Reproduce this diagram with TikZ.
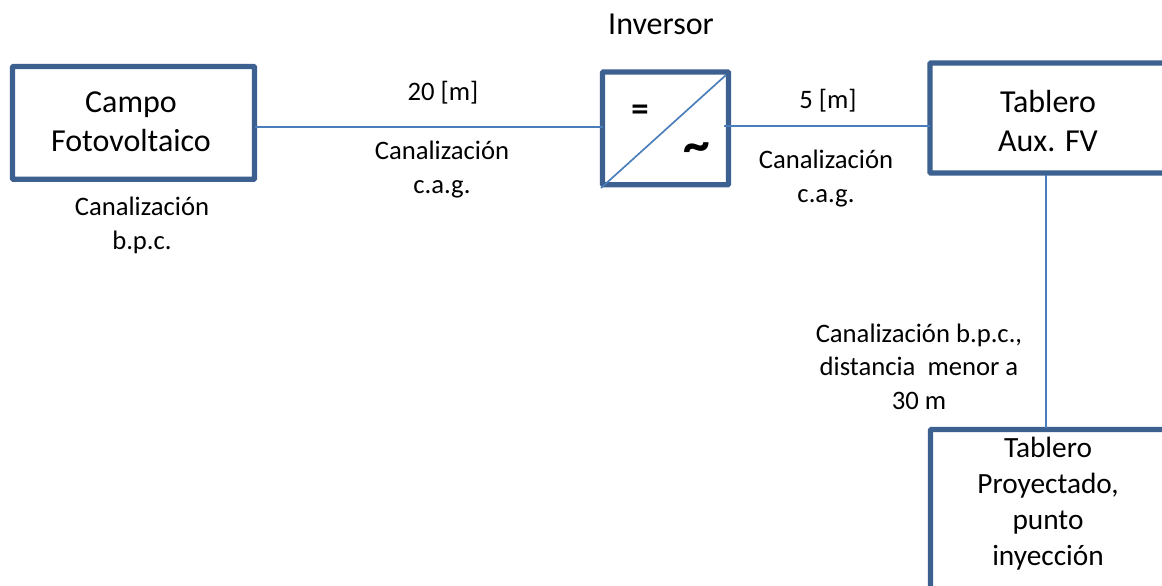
\documentclass[tikz,border=0pt]{standalone}
\usepackage{fontspec}
\setmainfont{Carlito}
\definecolor{boxblue}{HTML}{3C6090}
\definecolor{lineblue}{HTML}{4A7EBB}
\tikzset{
 x=0.75pt,y=-0.75pt,
 boxshape/.style={draw=boxblue,line width=4pt,fill=white,rounded corners=0.6pt,inner sep=0pt,outer sep=0pt,anchor=north west},
 link/.style={draw=lineblue,line width=1.25pt},
 biglabel/.style={align=center,font=\fontsize{24}{29.5}\selectfont,inner sep=0pt},
 midlabel/.style={align=center,font=\fontsize{22}{27}\selectfont,inner sep=0pt},
 smalllabel/.style={align=center,font=\fontsize{20}{26}\selectfont,inner sep=0pt},
 notelabel/.style={align=center,font=\fontsize{20}{25}\selectfont,inner sep=0pt},
 symlabel/.style={font=\fontsize{26}{26}\selectfont\bfseries,inner sep=0pt},
 tildelabel/.style={font=\fontsize{40}{40}\selectfont\bfseries,inner sep=0pt},
}
\begin{document}
\begin{tikzpicture}
\useasboundingbox (0,0) rectangle (1162,585);
\clip (0,0) rectangle (1162,585);
\node[boxshape,minimum width=181.5pt,minimum height=84.5pt] (campo) at (12.5,66.5) {};
\node[boxshape,minimum width=94.5pt,minimum height=84.5pt] (inv) at (602.5,72) {};
\node[boxshape,minimum width=200pt,minimum height=82.5pt] (aux) at (930,63) {};
\node[boxshape,minimum width=200pt,minimum height=200pt] (proy) at (930.5,429.5) {};
\coordinate (invsw) at (601,188);
\coordinate (invne) at (726,75);
\coordinate (auxdrop) at (1046,175);
\coordinate (proydrop) at (1046,428);
\draw[link] (campo.east |- 0,127) -- (inv.west |- 0,127);
\draw[link] (724,126) -- (aux.west |- 0,126);
\draw[link] (invsw) -- (invne);
\draw[link] (auxdrop) -- (proydrop);
\node[biglabel] (t1) at (131,122) {Campo\\Fotovoltaico};
\node[biglabel] (t2) at (1048,121) {Tablero\\Aux. FV};
\node[midlabel] (t3) at (1048,504) {Tablero\\Proyectado,\\punto\\inyección};
\node[biglabel] (t4) at (661,24) {Inversor};
\node[smalllabel] (l1) at (443,93) {20 [m]};
\node[smalllabel] (l2) at (442,169.5) {Canalización\\c.a.g.};
\node[smalllabel] (l3) at (142,225.5) {Canalización\\b.p.c.};
\node[smalllabel] (l4) at (828,101) {5 [m]};
\node[smalllabel] (l5) at (826,178.5) {Canalización\\c.a.g.};
\node[notelabel] (l6) at (919,366.5) {Canalización b.p.c.,\\distancia\ \ menor a\\30 m};
\node[symlabel] (eq) at (640,113) {=};
\node[tildelabel] (tilde) at (697,153) {\char"007E};
\end{tikzpicture}
\end{document}
